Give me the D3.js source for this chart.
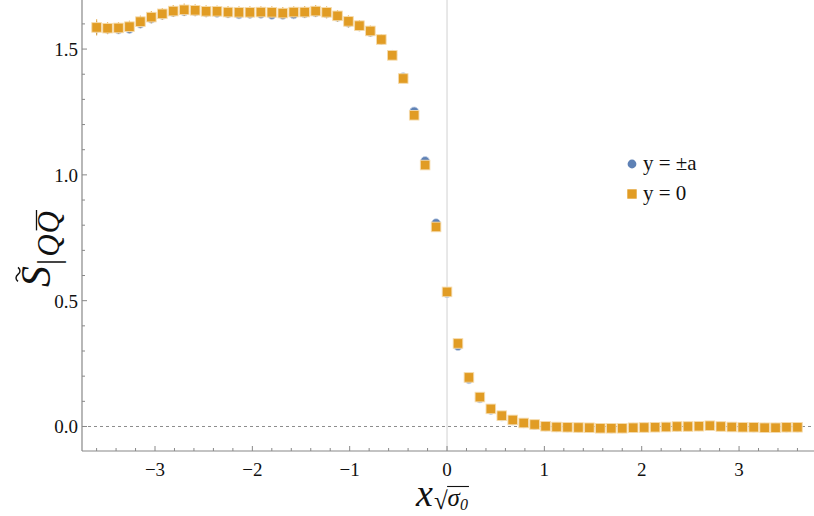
<!DOCTYPE html>
<html>
<head>
<meta charset="utf-8">
<script src="https://cdn.jsdelivr.net/npm/d3@7"></script>
<style>
  body { margin: 0; background: #fff; }
</style>
</head>
<body>
<script>
// x positions (x * sqrt(sigma_0))
var xs = [-3.6, -3.4875, -3.375, -3.2625, -3.15, -3.0375, -2.925, -2.8125, -2.7, -2.5875,
  -2.475, -2.3625, -2.25, -2.1375, -2.025, -1.9125, -1.8, -1.6875, -1.575, -1.4625,
  -1.35, -1.2375, -1.125, -1.0125, -0.9, -0.7875, -0.675, -0.5625, -0.45, -0.3375,
  -0.225, -0.1125, 0, 0.1125, 0.225, 0.3375, 0.45, 0.5625, 0.675, 0.7875,
  0.9, 1.0125, 1.125, 1.2375, 1.35, 1.4625, 1.575, 1.6875, 1.8, 1.9125,
  2.025, 2.1375, 2.25, 2.3625, 2.475, 2.5875, 2.7, 2.8125, 2.925, 3.0375,
  3.15, 3.2625, 3.375, 3.4875, 3.6];

// y = ±a series
var blueVals = [1.584, 1.580, 1.578, 1.580, 1.601, 1.621, 1.636, 1.647, 1.650, 1.650,
  1.646, 1.644, 1.642, 1.638, 1.640, 1.640, 1.636, 1.636, 1.638, 1.642,
  1.646, 1.642, 1.628, 1.605, 1.590, 1.568, 1.536, 1.477, 1.388, 1.252,
  1.055, 0.808, 0.530, 0.320, 0.188, 0.112, 0.066, 0.040, 0.024, 0.013,
  0.006, 0.000, -0.003, -0.004, -0.005, -0.006, -0.007, -0.008, -0.007, -0.005,
  -0.004, -0.003, -0.002, -0.001, 0.000, 0.001, 0.002, 0.000, -0.002, -0.003,
  -0.004, -0.005, -0.005, -0.004, -0.004];
var blueErr = [0.026, 0.018, 0.018, 0.018, 0.018, 0.018, 0.018, 0.018, 0.018, 0.018,
  0.018, 0.018, 0.018, 0.018, 0.018, 0.018, 0.018, 0.018, 0.018, 0.018,
  0.018, 0.018, 0.018, 0.018, 0.016, 0.016, 0.014, 0.012, 0.010, 0.009,
  0.008, 0.006, 0.005, 0.004, 0.004, 0.003, 0.003, 0.002, 0.002, 0.002,
  0.002, 0.002, 0.002, 0.002, 0.002, 0.002, 0.002, 0.002, 0.002, 0.002,
  0.002, 0.002, 0.002, 0.002, 0.002, 0.002, 0.002, 0.002, 0.002, 0.002,
  0.002, 0.002, 0.002, 0.002, 0.002];

// y = 0 series
var orangeVals = [1.586, 1.583, 1.584, 1.589, 1.609, 1.627, 1.640, 1.651, 1.656, 1.654,
  1.650, 1.650, 1.647, 1.646, 1.646, 1.647, 1.646, 1.643, 1.647, 1.647,
  1.651, 1.646, 1.632, 1.610, 1.593, 1.572, 1.538, 1.475, 1.383, 1.237,
  1.039, 0.793, 0.535, 0.330, 0.195, 0.117, 0.070, 0.043, 0.026, 0.014,
  0.008, 0.001, -0.002, -0.003, -0.004, -0.005, -0.007, -0.007, -0.007, -0.005,
  -0.004, -0.003, -0.002, 0.000, 0.000, 0.001, 0.003, 0.000, -0.002, -0.003,
  -0.003, -0.005, -0.005, -0.003, -0.003];
var orangeErr = [0.032, 0.024, 0.023, 0.024, 0.024, 0.024, 0.023, 0.024, 0.025, 0.024,
  0.024, 0.023, 0.024, 0.024, 0.024, 0.023, 0.024, 0.024, 0.023, 0.024,
  0.024, 0.024, 0.023, 0.024, 0.022, 0.022, 0.021, 0.018, 0.018, 0.016,
  0.012, 0.010, 0.006, 0.005, 0.005, 0.004, 0.003, 0.003, 0.002, 0.002,
  0.002, 0.002, 0.002, 0.002, 0.002, 0.002, 0.002, 0.002, 0.002, 0.002,
  0.002, 0.002, 0.002, 0.002, 0.002, 0.002, 0.002, 0.002, 0.002, 0.002,
  0.002, 0.002, 0.002, 0.002, 0.002];

var xTicks = [-3, -2, -1, 0, 1, 2, 3];
var yTicks = [0, 0.5, 1.0, 1.5];
var legendLabels = ['y = \u00b1a', 'y = 0'];

var W = 814, H = 516;
var plot = { left: 82, right: 814, top: 0, bottom: 451 };
var FONT = "'Liberation Serif'";

var blue = '#5e81b5', orange = '#e19c24';

var x = d3.scaleLinear().domain([-3.75, 3.77]).range([plot.left, plot.right]);
var y = d3.scaleLinear().domain([-0.0974, 1.695]).range([plot.bottom, plot.top]);

var svg = d3.select('body').append('svg')
  .attr('width', W)
  .attr('height', H);

// vertical line at x = 0
svg.append('line')
  .attr('x1', x(0)).attr('x2', x(0))
  .attr('y1', plot.top).attr('y2', plot.bottom)
  .attr('stroke', '#d9d9d9').attr('stroke-width', 1.2);

// dashed zero line
svg.append('line')
  .attr('x1', plot.left).attr('x2', plot.right - 2)
  .attr('y1', y(0)).attr('y2', y(0))
  .attr('stroke', '#8c8c8c').attr('stroke-width', 1)
  .attr('stroke-dasharray', '3,3');

// axes
var minorX = d3.range(-3.6, 3.7, 0.2).map(function (d) { return Math.round(d * 10) / 10; })
  .filter(function (d) { return xTicks.indexOf(d) < 0; });
var minorY = d3.range(0, 1.7, 0.1).map(function (d) { return Math.round(d * 10) / 10; })
  .filter(function (d) { return yTicks.indexOf(d) < 0; });

var xAxis = svg.append('g').attr('transform', 'translate(0,' + plot.bottom + ')');
xAxis.append('line').attr('x1', plot.left).attr('x2', plot.right)
  .attr('stroke', '#888').attr('stroke-width', 1.2);
xAxis.selectAll('.minor').data(minorX).enter().append('line')
  .attr('x1', x).attr('x2', x).attr('y1', 0).attr('y2', -3)
  .attr('stroke', '#888');
xAxis.selectAll('.major').data(xTicks).enter().append('line')
  .attr('x1', x).attr('x2', x).attr('y1', 0).attr('y2', -5)
  .attr('stroke', '#888');
xAxis.selectAll('text').data(xTicks).enter().append('text')
  .attr('x', x).attr('y', 25)
  .attr('text-anchor', 'middle')
  .style('font-family', FONT)
  .attr('font-size', 19)
  .attr('fill', '#111')
  .text(function (d) { return d < 0 ? '\u2212' + Math.abs(d) : d; });

var yAxis = svg.append('g').attr('transform', 'translate(' + plot.left + ',0)');
yAxis.append('line').attr('y1', plot.top).attr('y2', plot.bottom)
  .attr('stroke', '#888').attr('stroke-width', 1.2);
yAxis.selectAll('.minor').data(minorY).enter().append('line')
  .attr('y1', y).attr('y2', y).attr('x1', 0).attr('x2', 3)
  .attr('stroke', '#888');
yAxis.selectAll('.major').data(yTicks).enter().append('line')
  .attr('y1', y).attr('y2', y).attr('x1', 0).attr('x2', 5)
  .attr('stroke', '#888');
yAxis.selectAll('text').data(yTicks).enter().append('text')
  .attr('x', -4).attr('y', function (d) { return y(d) + 7; })
  .attr('text-anchor', 'end')
  .style('font-family', FONT)
  .attr('font-size', 19)
  .attr('fill', '#111')
  .text(function (d) { return d.toFixed(1); });

// error bars + markers
function series(vals, errs, color, shape) {
  var g = svg.append('g');
  g.selectAll('line').data(vals).enter().append('line')
    .attr('x1', function (d, i) { return x(xs[i]); })
    .attr('x2', function (d, i) { return x(xs[i]); })
    .attr('y1', function (d, i) { return y(d - errs[i]); })
    .attr('y2', function (d, i) { return y(d + errs[i]); })
    .attr('stroke', color).attr('stroke-opacity', 0.75).attr('stroke-width', 1.2);
  if (shape === 'circle') {
    g.selectAll('circle').data(vals).enter().append('circle')
      .attr('cx', function (d, i) { return x(xs[i]); })
      .attr('cy', function (d) { return y(d); })
      .attr('r', 4.5)
      .attr('fill', color)
      .attr('stroke', '#c8d4e8').attr('stroke-width', 0.8);
  } else {
    g.selectAll('rect').data(vals).enter().append('rect')
      .attr('x', function (d, i) { return x(xs[i]) - 4.8; })
      .attr('y', function (d) { return y(d) - 4.8; })
      .attr('width', 9.6).attr('height', 9.6)
      .attr('fill', color)
      .attr('stroke', '#f6dcae').attr('stroke-width', 0.9);
  }
}
series(blueVals, blueErr, blue, 'circle');
series(orangeVals, orangeErr, orange, 'square');

// legend
var legend = svg.append('g').attr('transform', 'translate(632,164)');
legend.append('circle').attr('cx', 0).attr('cy', 0).attr('r', 4.4).attr('fill', blue);
legend.append('rect').attr('x', -4.7).attr('y', 30 - 4.7).attr('width', 9.4).attr('height', 9.4).attr('fill', orange);
legend.selectAll('text').data(legendLabels).enter().append('text')
  .attr('x', 11).attr('y', function (d, i) { return i * 30 + 6; })
  .style('font-family', FONT)
  .attr('font-size', 21).attr('fill', '#111')
  .text(function (d) { return d; });

// helper: place a run of text pieces one after another, return their extents
function run(g, pieces) {
  var pos = 0, out = [];
  pieces.forEach(function (p) {
    var t = g.append('text')
      .attr('x', pos + (p.dx || 0)).attr('y', p.dy || 0)
      .style('font-family', FONT)
      .attr('font-size', p.size)
      .attr('font-style', p.italic ? 'italic' : 'normal')
      .attr('fill', '#111')
      .text(p.text);
    var w = t.node().getComputedTextLength();
    out.push({ x0: pos + (p.dx || 0), w: w });
    pos += w + (p.dx || 0);
  });
  return out;
}

// y axis label: S~ sub |Q Qbar
var yl = svg.append('g').attr('transform', 'translate(50,287) rotate(-90)');
var yp = run(yl, [
  { text: 'S', size: 42, italic: true },
  { text: '|', size: 31, dy: 9, dx: 1 },
  { text: 'Q', size: 31, dy: 9, italic: true, dx: 2 },
  { text: 'Q', size: 31, dy: 9, italic: true, dx: 1 }
]);
// tilde over S
var sx = yp[0].x0 + yp[0].w * 0.6;
yl.append('path')
  .attr('d', 'M' + (sx - 7) + ',-32 q3.5,-4 7,0 t7,0')
  .attr('fill', 'none').attr('stroke', '#111').attr('stroke-width', 1.4);
// overline over last Q
yl.append('line')
  .attr('x1', yp[3].x0 + 3).attr('x2', yp[3].x0 + yp[3].w + 1)
  .attr('y1', -13.5).attr('y2', -13.5)
  .attr('stroke', '#111').attr('stroke-width', 1.3);

// x axis label: x sqrt(sigma_0)
var xl = svg.append('g').attr('transform', 'translate(416,506)');
var xp = run(xl, [
  { text: 'x', size: 38, italic: true },
  { text: '\u221a', size: 25, dx: 1, dy: 3 },
  { text: '\u03c3', size: 25, italic: true },
  { text: '0', size: 16, italic: true, dy: 4 }
]);
xl.append('line')
  .attr('x1', xp[2].x0 - 0.5).attr('x2', xp[3].x0 + xp[3].w + 1)
  .attr('y1', -19.5).attr('y2', -19.5)
  .attr('stroke', '#111').attr('stroke-width', 1.1);
</script>
</body>
</html>
